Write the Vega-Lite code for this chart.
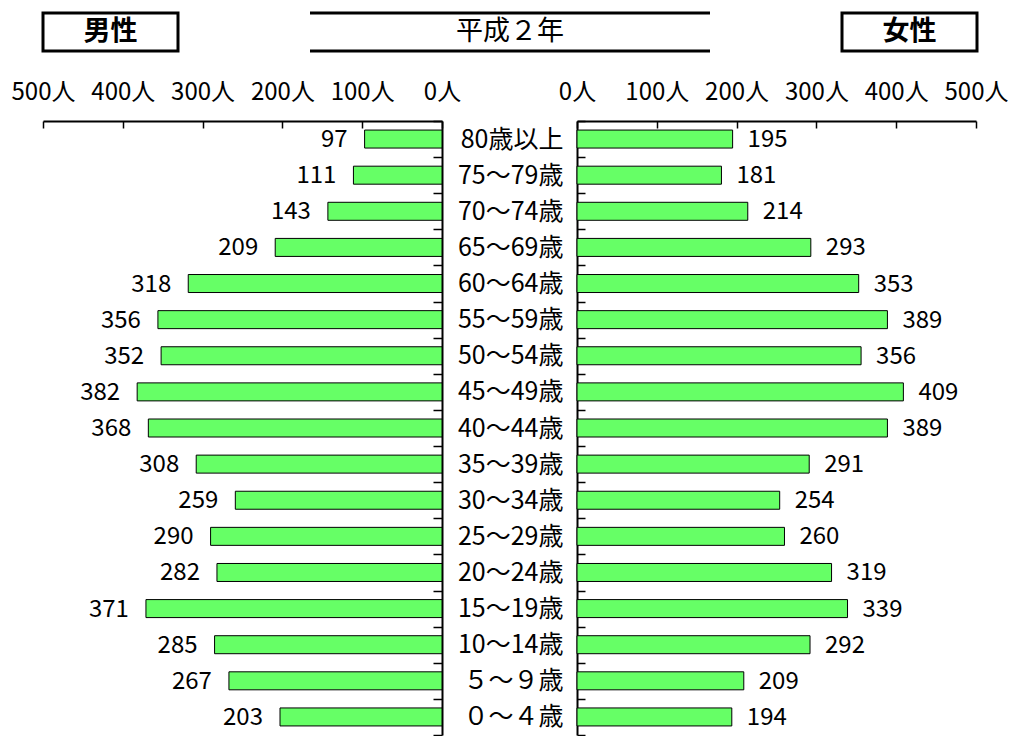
{
  "$schema": "https://vega.github.io/schema/vega-lite/v6.json",
  "padding": {"left": 11, "top": 11, "right": 0, "bottom": 0},
  "background": "white",
  "config": {
    "font": "Noto Sans CJK JP",
    "view": {"stroke": null},
    "axis": {
      "domainColor": "black",
      "tickColor": "black",
      "labelColor": "black",
      "labelFont": "Noto Sans CJK JP",
      "labelFontSize": 23,
      "grid": false,
      "title": null
    },
    "concat": {"spacing": 0}
  },
  "datasets": {
    "pop": [
      {"age": "80歳以上", "sex": "男", "count": 97},
      {"age": "75～79歳", "sex": "男", "count": 111},
      {"age": "70～74歳", "sex": "男", "count": 143},
      {"age": "65～69歳", "sex": "男", "count": 209},
      {"age": "60～64歳", "sex": "男", "count": 318},
      {"age": "55～59歳", "sex": "男", "count": 356},
      {"age": "50～54歳", "sex": "男", "count": 352},
      {"age": "45～49歳", "sex": "男", "count": 382},
      {"age": "40～44歳", "sex": "男", "count": 368},
      {"age": "35～39歳", "sex": "男", "count": 308},
      {"age": "30～34歳", "sex": "男", "count": 259},
      {"age": "25～29歳", "sex": "男", "count": 290},
      {"age": "20～24歳", "sex": "男", "count": 282},
      {"age": "15～19歳", "sex": "男", "count": 371},
      {"age": "10～14歳", "sex": "男", "count": 285},
      {"age": "５～９歳", "sex": "男", "count": 267},
      {"age": "０～４歳", "sex": "男", "count": 203},
      {"age": "80歳以上", "sex": "女", "count": 195},
      {"age": "75～79歳", "sex": "女", "count": 181},
      {"age": "70～74歳", "sex": "女", "count": 214},
      {"age": "65～69歳", "sex": "女", "count": 293},
      {"age": "60～64歳", "sex": "女", "count": 353},
      {"age": "55～59歳", "sex": "女", "count": 389},
      {"age": "50～54歳", "sex": "女", "count": 356},
      {"age": "45～49歳", "sex": "女", "count": 409},
      {"age": "40～44歳", "sex": "女", "count": 389},
      {"age": "35～39歳", "sex": "女", "count": 291},
      {"age": "30～34歳", "sex": "女", "count": 254},
      {"age": "25～29歳", "sex": "女", "count": 260},
      {"age": "20～24歳", "sex": "女", "count": 319},
      {"age": "15～19歳", "sex": "女", "count": 339},
      {"age": "10～14歳", "sex": "女", "count": 292},
      {"age": "５～９歳", "sex": "女", "count": 209},
      {"age": "０～４歳", "sex": "女", "count": 194}
    ]
  },
  "bounds": "flush",
  "spacing": 108,
  "vconcat": [
    {
      "bounds": "flush",
      "spacing": 132,
      "hconcat": [
        {
          "width": 135,
          "height": 38,
          "view": {"stroke": "black", "strokeWidth": 3},
          "data": {"values": [{"label": "男性"}]},
          "mark": {"type": "text", "fontSize": 27, "fontWeight": "bold", "color": "black", "baseline": "middle"},
          "encoding": {"text": {"field": "label"}}
        },
        {
          "width": 400,
          "height": 38,
          "layer": [
            {
              "data": {"values": [{"label": "平成２年"}]},
              "mark": {"type": "text", "fontSize": 27, "color": "black", "baseline": "middle"},
              "encoding": {"text": {"field": "label"}}
            },
            {
              "data": {"values": [{"edge": 0}, {"edge": 1}]},
              "mark": {"type": "rule", "color": "black", "strokeWidth": 3},
              "encoding": {
                "y": {"field": "edge", "type": "quantitative", "scale": {"domain": [0, 1], "nice": false, "zero": false}, "axis": null}
              }
            }
          ]
        },
        {
          "width": 135,
          "height": 38,
          "view": {"stroke": "black", "strokeWidth": 3},
          "data": {"values": [{"label": "女性"}]},
          "mark": {"type": "text", "fontSize": 27, "fontWeight": "bold", "color": "black", "baseline": "middle"},
          "encoding": {"text": {"field": "label"}}
        }
      ]
    },
    {
      "bounds": "flush",
      "spacing": 135,
      "hconcat": [
        {
          "width": 399,
          "height": 614,
          "data": {"name": "pop"},
          "transform": [{"filter": "datum.sex === '男'"}],
          "encoding": {
            "y": {
              "field": "age",
              "type": "nominal",
              "sort": null,
              "scale": {"paddingInner": 0, "paddingOuter": 0},
              "axis": {"orient": "right", "labels": false, "tickBand": "extent", "tickSize": -9, "tickWidth": 1.5, "domainWidth": 2}
            },
            "x": {
              "field": "count",
              "type": "quantitative",
              "scale": {"domain": [0, 500], "reverse": true, "nice": false},
              "axis": {
                "orient": "top",
                "values": [0, 100, 200, 300, 400, 500],
                "labelExpr": "datum.value + '人'",
                "labelFontSize": 24,
                "labelFlush": false,
                "labelOverlap": false,
                "tickSize": -7,
                "tickWidth": 1.5,
                "domainWidth": 2,
                "labelPadding": 24
              }
            }
          },
          "layer": [
            {"mark": {"type": "bar", "fill": "#66FF66", "stroke": "black", "strokeWidth": 1, "size": 18}},
            {
              "mark": {"type": "text", "align": "right", "baseline": "middle", "dx": -17, "dy": 1, "fontSize": 24, "color": "black"},
              "encoding": {"text": {"field": "count", "type": "quantitative"}}
            }
          ]
        },
        {
          "width": 399,
          "height": 614,
          "data": {"name": "pop"},
          "transform": [{"filter": "datum.sex === '女'"}],
          "encoding": {
            "y": {
              "field": "age",
              "type": "nominal",
              "sort": null,
              "scale": {"paddingInner": 0, "paddingOuter": 0},
              "axis": {"orient": "left", "tickBand": "extent", "tickSize": -8, "tickWidth": 1.5, "domainWidth": 2, "labelPadding": 22, "labelFontSize": 25, "labelLimit": 200}
            },
            "x": {
              "field": "count",
              "type": "quantitative",
              "scale": {"domain": [0, 500], "nice": false},
              "axis": {
                "orient": "top",
                "values": [0, 100, 200, 300, 400, 500],
                "labelExpr": "datum.value + '人'",
                "labelFontSize": 24,
                "labelFlush": false,
                "labelOverlap": false,
                "tickSize": -7,
                "tickWidth": 1.5,
                "domainWidth": 2,
                "labelPadding": 24
              }
            }
          },
          "layer": [
            {"mark": {"type": "bar", "fill": "#66FF66", "stroke": "black", "strokeWidth": 1, "size": 18}},
            {
              "mark": {"type": "text", "align": "left", "baseline": "middle", "dx": 15, "dy": 1, "fontSize": 24, "color": "black"},
              "encoding": {"text": {"field": "count", "type": "quantitative"}}
            }
          ]
        }
      ]
    }
  ]
}
